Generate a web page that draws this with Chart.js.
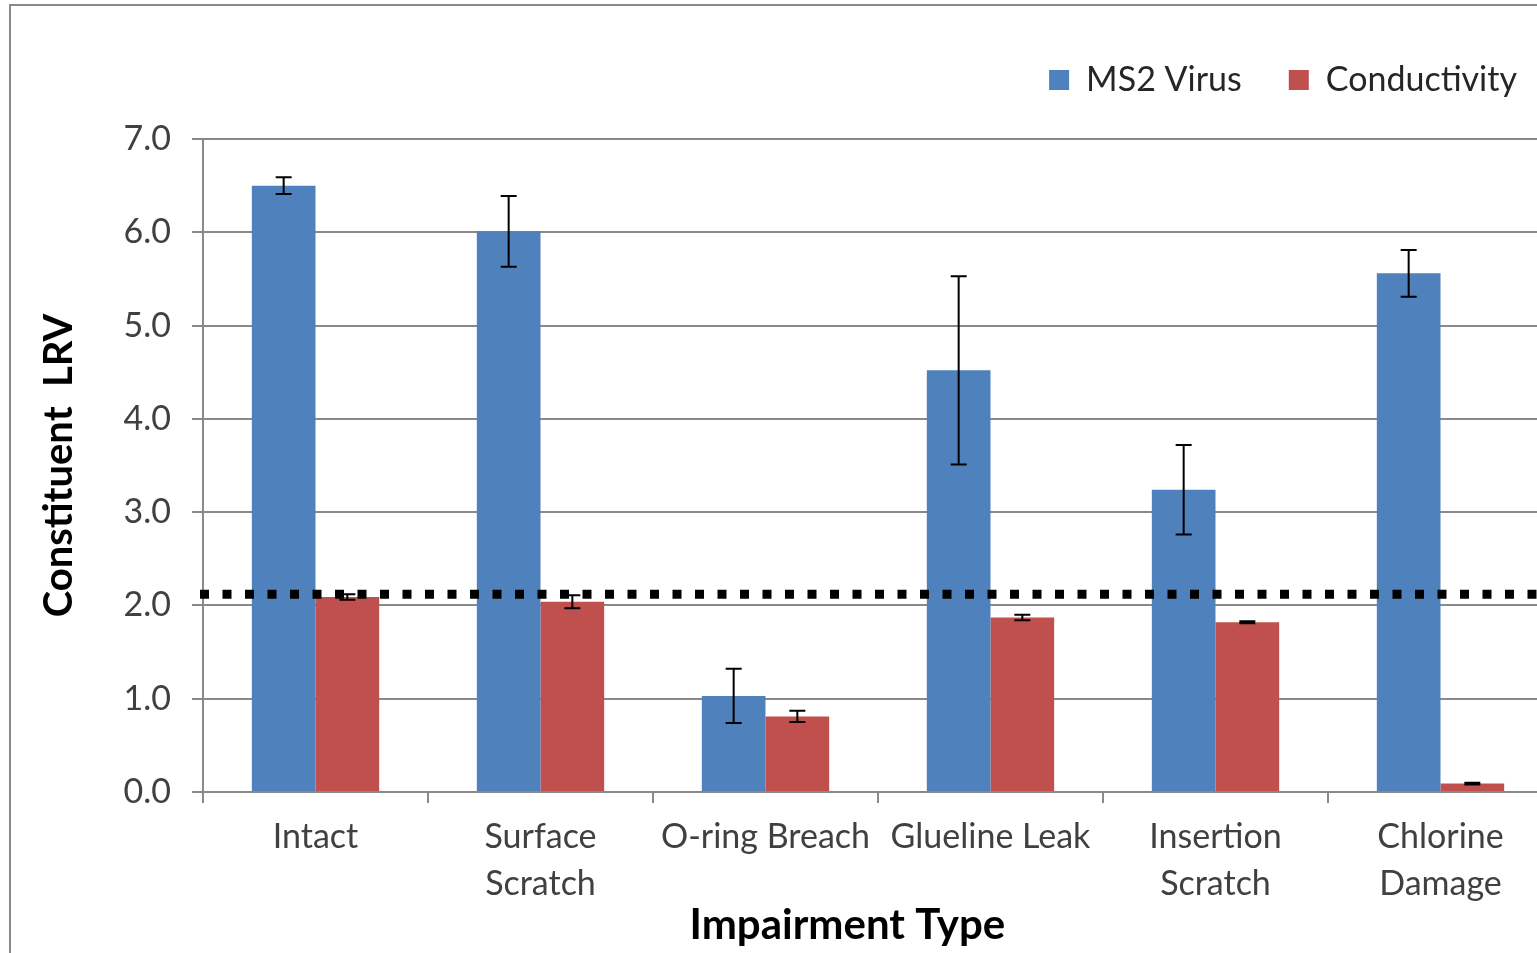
<!DOCTYPE html>
<html>
<head>
<meta charset="utf-8">
<script src="https://cdn.jsdelivr.net/npm/chart.js@4/dist/chart.umd.min.js"></script>
<style>
  html, body { margin: 0; padding: 0; background: #fff; overflow: hidden; }
  #frame {
    position: absolute; left: 9px; top: 4px;
    border-left: 2px solid #8a8a8a; border-top: 2px solid #8a8a8a;
    width: 1542px; height: 950px;
  }
</style>
</head>
<body>
<div id="frame"><canvas id="lrvChart" width="1542" height="950"></canvas></div>
<script>
// data
var categories = [['Intact'], ['Surface', 'Scratch'], ['O-ring Breach'], ['Glueline Leak'], ['Insertion', 'Scratch'], ['Chlorine', 'Damage']];
var ms2Virus = [6.50, 6.01, 1.03, 4.52, 3.24, 5.56];
var ms2Err = [0.09, 0.38, 0.29, 1.01, 0.48, 0.25];
var conductivity = [2.09, 2.04, 0.81, 1.87, 1.82, 0.09];
var condErr = [0.03, 0.07, 0.06, 0.03, 0.01, 0.01];
var threshold = 2.12;
var yTicks = [0, 1, 2, 3, 4, 5, 6, 7];

Chart.defaults.font.family = 'Lato, "Open Sans", sans-serif';

// error bars + dotted threshold line, drawn through the scales
var overlay = {
    id: 'overlay',
    beforeInit: function(chart){
        // extra room under the legend
        var fit = chart.legend.fit;
        chart.legend.fit = function(){
            fit.bind(chart.legend)();
            this.height = 123;
        }
    },
    afterLayout: function(chart){
        // legend sits a bit further right than the plot edge allows
        chart.legend.left += 11;
        chart.legend.right += 11;
    },
    afterDatasetsDraw: function(chart){
        var ctx = chart.ctx;
        var y = chart.scales.y;
        var area = chart.chartArea;
        ctx.save();

        //threshold
        var ty = y.getPixelForValue(threshold);
        ctx.beginPath();
        ctx.setLineDash([9, 13.5]);
        ctx.lineWidth = 9;
        ctx.strokeStyle = '#000';
        ctx.moveTo(area.left - 3, ty);
        ctx.lineTo(area.right, ty);
        ctx.stroke();
        ctx.setLineDash([]);

        //error bars
        ctx.lineWidth = 2;
        ctx.strokeStyle = '#000';
        chart.data.datasets.forEach(function(ds, i){
            var meta = chart.getDatasetMeta(i);
            meta.data.forEach(function(bar, j){
                var hi = y.getPixelForValue(ds.data[j] + ds.errors[j]);
                var lo = y.getPixelForValue(ds.data[j] - ds.errors[j]);
                var x = bar.x;
                ctx.beginPath();
                ctx.moveTo(x, hi); ctx.lineTo(x, lo);
                ctx.moveTo(x - 8, hi); ctx.lineTo(x + 8, hi);
                ctx.moveTo(x - 8, lo); ctx.lineTo(x + 8, lo);
                ctx.stroke();
            })
        })
        ctx.restore();
    }
};

var ctx = document.getElementById('lrvChart');
var lrvChart = new Chart(ctx, {
    type: 'bar',
    data: {
        labels: categories,
        datasets: [
            { label: 'MS2 Virus', data: ms2Virus, errors: ms2Err, backgroundColor: '#4F81BD', categoryPercentage: 0.566, barPercentage: 1.0 },
            { label: 'Conductivity', data: conductivity, errors: condErr, backgroundColor: '#C0504D', categoryPercentage: 0.566, barPercentage: 1.0 }
        ]
    },
    options: {
        responsive: false,
        animation: false,
        layout: { padding: { top: 10, left: 0, right: 0, bottom: 0 } },
        plugins: {
            legend: {
                position: 'top',
                align: 'end',
                labels: {
                    boxWidth: 20, boxHeight: 20, padding: 47,
                    color: '#262626',
                    font: { size: 34 }
                }
            },
            tooltip: { enabled: false }
        },
        scales: {
            x: {
                grid: { drawOnChartArea: false, tickLength: 11, color: '#898989', lineWidth: 2 },
                border: { color: '#898989', width: 2 },
                ticks: { color: '#404040', font: { size: 34, lineHeight: 1.38 }, padding: 11, maxRotation: 0, autoSkip: false },
                // trailing spaces shift the centred title left like the original
                title: { display: true, text: 'Impairment Type      ', color: '#000', font: { size: 42, weight: 'bold' }, padding: { top: 0, bottom: 5 } },
                afterFit: function(scale){ scale.height = 164; }
            },
            y: {
                min: 0, max: 7,
                afterBuildTicks: function(scale){
                    scale.ticks = yTicks.map(function(v){ return { value: v }; });
                },
                grid: { color: '#898989', lineWidth: 2, tickLength: 11 },
                border: { color: '#898989', width: 2 },
                ticks: {
                    color: '#404040', font: { size: 34 }, padding: 21,
                    callback: function(v){ return v.toFixed(1); }
                },
                title: { display: true, text: 'Constituent  LRV', color: '#000', font: { size: 40, weight: 'bold' }, padding: { top: 24, bottom: 0 } },
                afterFit: function(scale){ scale.width = 192; }
            }
        }
    },
    plugins: [overlay]
});
</script>
</body>
</html>
